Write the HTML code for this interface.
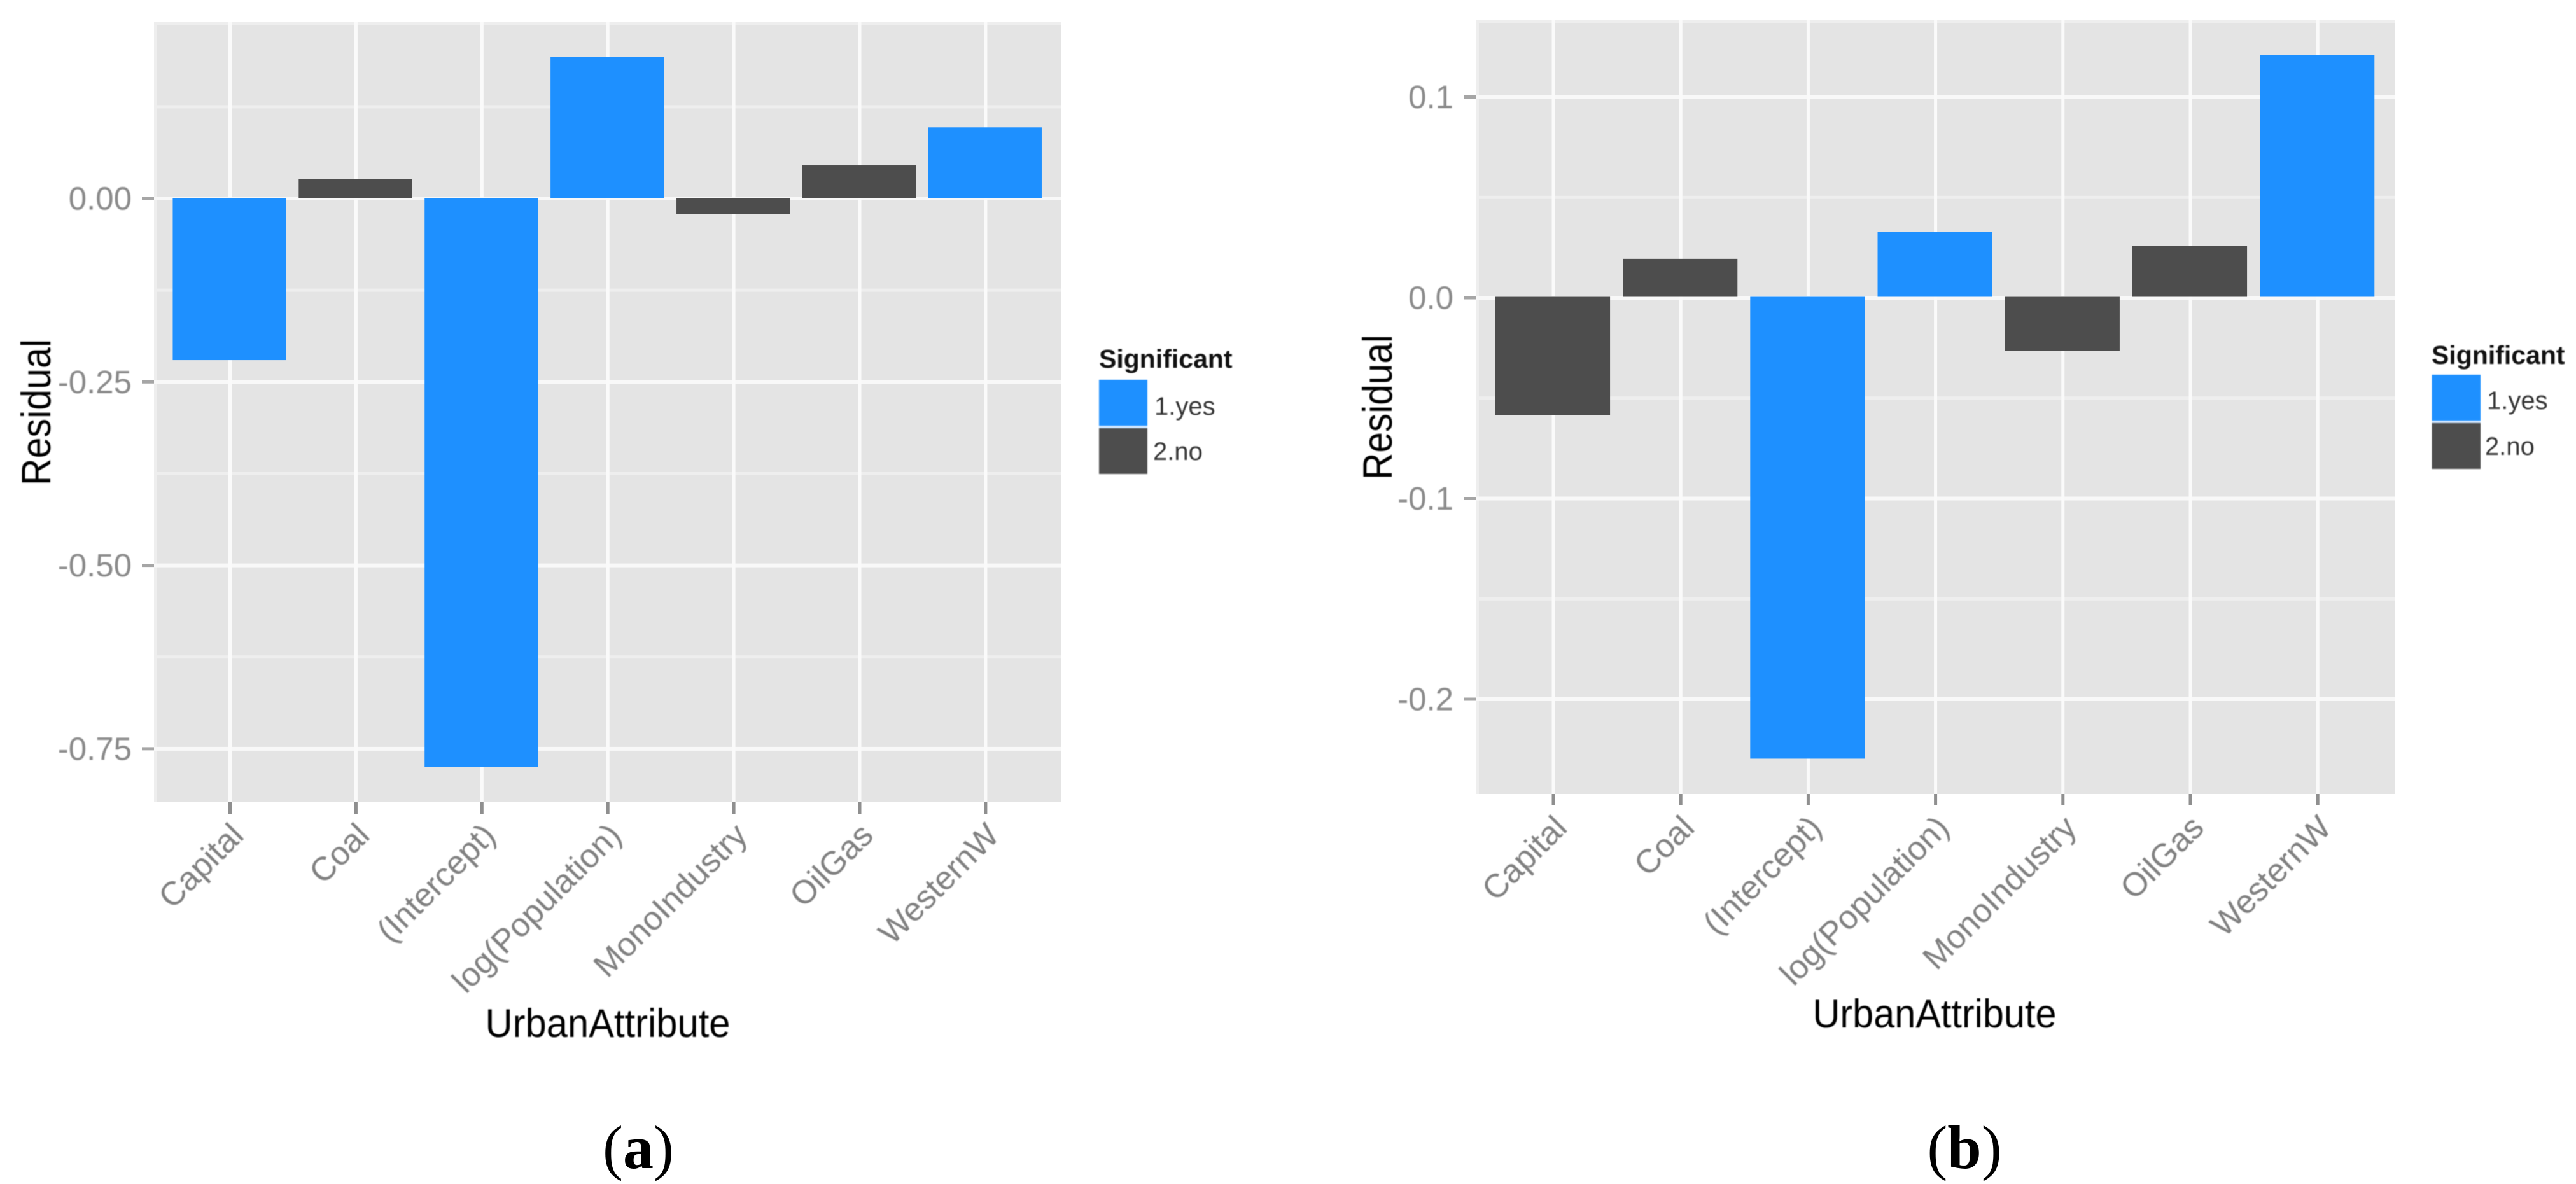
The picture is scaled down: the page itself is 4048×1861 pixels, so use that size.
<!DOCTYPE html>
<html lang="en">
<head>
<meta charset="utf-8">
<title>Residual by urban attribute</title>
<style>
  html, body { margin: 0; padding: 0; background: #fff; }
  svg { display: block; font-family: "Liberation Sans", sans-serif; }
  .soft { filter: blur(0.9px); }
</style>
</head>
<body>
<svg id="figure" xmlns="http://www.w3.org/2000/svg" width="4048" height="1861" viewBox="0 0 4048 1861">
  <rect x="0" y="0" width="4048" height="1861" fill="#ffffff"/>
  <g id="panel-a"></g>
  <g id="panel-b"></g>

  <g class="soft">
    <text x="1727" y="578" font-size="41" font-weight="bold" fill="#111">Significant</text>
    <rect x="1727" y="597" width="76" height="72" fill="#1e90ff"/>
    <rect x="1727" y="669" width="76" height="4" fill="#cfe6ff"/>
    <rect x="1727" y="673" width="76" height="72" fill="#4d4d4d"/>
    <text x="1814" y="652" font-size="40" fill="#333">1.yes</text>
    <text x="1812" y="723" font-size="40" fill="#333">2.no</text>
  </g>
  <g class="soft">
    <text x="3821" y="572" font-size="41" font-weight="bold" fill="#111">Significant</text>
    <rect x="3821.5" y="589" width="76.5" height="72" fill="#1e90ff"/>
    <rect x="3821.5" y="661" width="76.5" height="4" fill="#cfe6ff"/>
    <rect x="3821.5" y="665" width="76.5" height="72" fill="#4d4d4d"/>
    <text x="3908" y="643" font-size="40" fill="#333">1.yes</text>
    <text x="3905" y="715" font-size="40" fill="#333">2.no</text>
  </g>

  <g class="soft">
    <text transform="translate(79 648) rotate(-90)" text-anchor="middle" font-size="65" textLength="230" lengthAdjust="spacingAndGlyphs" fill="#000">Residual</text>
    <text transform="translate(2187 640) rotate(-90)" text-anchor="middle" font-size="65" textLength="228" lengthAdjust="spacingAndGlyphs" fill="#000">Residual</text>
    <text x="955" y="1630" text-anchor="middle" font-size="63" textLength="385" lengthAdjust="spacingAndGlyphs" fill="#000">UrbanAttribute</text>
    <text x="3040" y="1615" text-anchor="middle" font-size="63" textLength="383" lengthAdjust="spacingAndGlyphs" fill="#000">UrbanAttribute</text>
  </g>

  <text x="1003" y="1836" text-anchor="middle" font-size="96" fill="#000" style="font-family:'Liberation Serif',serif">(<tspan font-weight="bold">a</tspan>)</text>
  <text x="3087" y="1836" text-anchor="middle" font-size="96" fill="#000" style="font-family:'Liberation Serif',serif">(<tspan font-weight="bold">b</tspan>)</text>
</svg>

<script>
const categories = ['Capital', 'Coal', '(Intercept)', 'log(Population)', 'MonoIndustry', 'OilGas', 'WesternW'];

const panelAValues = [-0.2212, 0.026, -0.7754, 0.1923, -0.0223, 0.0442, 0.096];
const panelASignificant = ['yes', 'no', 'yes', 'yes', 'no', 'no', 'yes'];
const panelATicks = [0, -0.25, -0.5, -0.75];
const panelATickLabels = ['0.00', '-0.25', '-0.50', '-0.75'];
const panelAMinorTicks = [0.125, -0.125, -0.375, -0.625];

const panelBValues = [-0.0588, 0.0189, -0.2301, 0.0322, -0.0268, 0.0255, 0.1206];
const panelBSignificant = ['no', 'no', 'yes', 'yes', 'no', 'no', 'yes'];
const panelBTicks = [0.1, 0, -0.1, -0.2];
const panelBTickLabels = ['0.1', '0.0', '-0.1', '-0.2'];
const panelBMinorTicks = [0.05, -0.05, -0.15];

const NS = 'http://www.w3.org/2000/svg';
const fills = { yes: '#1e90ff', no: '#4d4d4d' };

function make(tag, parent, attrs) {
  const el = document.createElementNS(NS, tag);
  for (const k in attrs) el.setAttribute(k, attrs[k]);
  parent.appendChild(el);
  return el;
}

function drawPanel(root, values, significant, ticks, tickLabels, minorTicks, g) {
  const xScale = function (i) { return g.x0 + g.step * i; };
  const yScale = function (v) { return g.zero - v * g.perUnit; };

  const bg = make('rect', root, { x: g.left, y: g.top, width: g.right - g.left, height: g.bottom - g.top, fill: '#e4e4e4' });
  
  

  const edgeTop = make('rect', root, { x: g.left, y: g.top, width: g.right - g.left, height: 5, fill: '#eeeeee' });
  
  

  const edgeLeft = make('rect', root, { x: g.left, y: g.top, width: 4, height: g.bottom - g.top, fill: '#eeeeee' });
  
  

  minorTicks.forEach(function (v) {
    const line = make('line', root, { x1: g.left, x2: g.right, y1: yScale(v), y2: yScale(v), stroke: '#eeeeee', 'stroke-width': 5 });
    
    
  });

  ticks.forEach(function (v, i) {
    const line = make('line', root, { x1: g.left, x2: g.right, y1: yScale(v), y2: yScale(v), stroke: '#f8f8f8', 'stroke-width': 6 });
    
    

    const tick = make('line', root, { x1: g.left - 19, x2: g.left, y1: yScale(v), y2: yScale(v), stroke: '#a6a6a6', 'stroke-width': 5 });
    
    

    const label = make('text', root, { x: g.labelRight, y: yScale(v) + 17.5, 'text-anchor': 'end', 'font-size': 51, fill: '#8a8a8a', class: 'soft' });
    
    
    label.textContent = tickLabels[i];
  });

  categories.forEach(function (name, i) {
    const line = make('line', root, { x1: xScale(i), x2: xScale(i), y1: g.top, y2: g.bottom, stroke: '#fafafa', 'stroke-width': 5 });
    
    

    const tick = make('line', root, { x1: xScale(i), x2: xScale(i), y1: g.bottom, y2: g.bottom + 18, stroke: '#8f8f8f', 'stroke-width': 5 });
    
    

    const ex = xScale(i) + 24;
    const label = make('text', root, { transform: 'translate(' + ex + ' ' + g.labelY + ') rotate(-45)', 'text-anchor': 'end', 'font-size': 52, fill: '#808080', class: 'soft' });
    
    
    label.textContent = name;
  });

  values.forEach(function (v, i) {
    const y1 = yScale(Math.max(v, 0)) + g.barShift;
    const y2 = yScale(Math.min(v, 0)) + g.barShift;
    const w = g.step * 0.9;
    const bar = make('rect', root, { x: xScale(i) - w / 2 - 1, y: y1, width: w, height: y2 - y1, fill: fills[significant[i]] });
    
    
  });
}

drawPanel(document.getElementById('panel-a'), panelAValues, panelASignificant, panelATicks, panelATickLabels, panelAMinorTicks, {
  left: 242, right: 1667, top: 34, bottom: 1261,
  x0: 361.5, step: 197.9, zero: 312, perUnit: 1153.2, barShift: -1,
  labelRight: 207, labelY: 1316
});

drawPanel(document.getElementById('panel-b'), panelBValues, panelBSignificant, panelBTicks, panelBTickLabels, panelBMinorTicks, {
  left: 2320, right: 3763, top: 31, bottom: 1248,
  x0: 2441, step: 200.2, zero: 468, perUnit: 3155, barShift: -1.5,
  labelRight: 2284, labelY: 1304
});
</script>
</body>
</html>
